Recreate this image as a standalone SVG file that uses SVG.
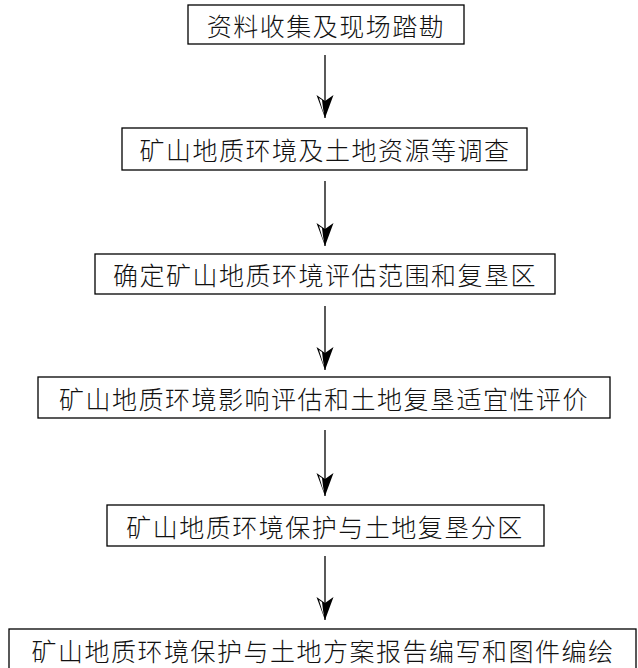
<svg xmlns="http://www.w3.org/2000/svg" width="638" height="668" viewBox="0 0 638 668">
<style>
.box{fill:#fff;stroke:#000;stroke-width:1.3}
.t{font-family:"Noto Sans CJK SC","Noto Sans CJK JP",sans-serif;font-size:25px;font-weight:300;fill:#111;text-anchor:middle;dominant-baseline:central;letter-spacing:1.5px}
.c{stroke:#000;stroke-width:1.3;fill:none}
</style>
<defs>
<marker id="ah" markerUnits="userSpaceOnUse" markerWidth="24" markerHeight="18" refX="23" refY="9" orient="auto" viewBox="0 0 24 18">
<path d="M0,0.5 L23,9 L0,17.5 L6,9 Z" fill="#000"/>
<path d="M5,12 L19,10.2 L3,15 Z" fill="#fff"/>
</marker>
</defs>
<g id="connectors">
<line class="c" x1="325" y1="55" x2="325" y2="118" marker-end="url(#ah)"/>
<line class="c" x1="325" y1="181" x2="325" y2="246" marker-end="url(#ah)"/>
<line class="c" x1="325" y1="306" x2="325" y2="370" marker-end="url(#ah)"/>
<line class="c" x1="325" y1="430" x2="325" y2="496" marker-end="url(#ah)"/>
<line class="c" x1="325" y1="556" x2="325" y2="620" marker-end="url(#ah)"/>
</g>
<g id="n1"><rect class="box" x="188" y="5" width="276" height="39"/><text class="t" x="326" y="25">资料收集及现场踏勘</text></g>
<g id="n2"><rect class="box" x="122" y="128" width="405" height="42"/><text class="t" x="325" y="149">矿山地质环境及土地资源等调查</text></g>
<g id="n3"><rect class="box" x="95" y="254" width="460" height="40"/><text class="t" x="325" y="274">确定矿山地质环境评估范围和复垦区</text></g>
<g id="n4"><rect class="box" x="38" y="377" width="572" height="41"/><text class="t" x="324" y="398">矿山地质环境影响评估和土地复垦适宜性评价</text></g>
<g id="n5"><rect class="box" x="107" y="505" width="437" height="41"/><text class="t" x="325" y="526">矿山地质环境保护与土地复垦分区</text></g>
<g id="n6"><rect class="box" x="9" y="629" width="627" height="45"/><text class="t" x="323" y="650">矿山地质环境保护与土地方案报告编写和图件编绘</text></g>
</svg>
